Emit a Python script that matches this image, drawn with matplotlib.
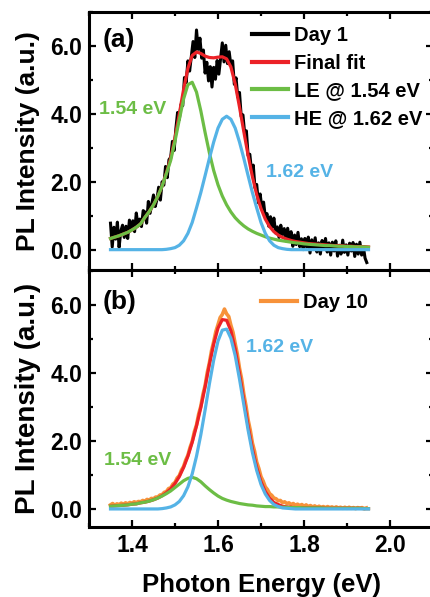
import numpy as np
import matplotlib.pyplot as plt
from matplotlib.ticker import MultipleLocator, FormatStrFormatter

plt.rcParams['font.family'] = ['Liberation Sans', 'DejaVu Sans']
plt.rcParams['font.weight'] = 'bold'

# photon energy grids (eV)
e_fit = np.linspace(1.35, 1.95, 61)
e_day1 = np.linspace(1.35, 1.946, 150)
e_day10 = np.linspace(1.35, 1.945, 120)

# (a) day 1
day1 = [0.78, 0.08, 0.66, 0.31, 0.81, 0.07, 0.55, 0.72, 0.36, 0.69,
        0.33, 0.87, 0.60, 0.85, 0.53, 1.08, 0.70, 0.90, 0.68, 1.15,
        1.11, 0.78, 1.42, 1.07, 1.35, 1.61, 1.27, 1.48, 1.84, 1.46,
        2.00, 1.90, 2.45, 2.12, 2.65, 2.72, 3.19, 2.92, 3.56, 4.04,
        3.83, 4.28, 4.24, 5.07, 4.92, 5.56, 5.26, 5.70, 6.13, 5.66,
        6.47, 5.90, 6.23, 5.64, 5.88, 5.20, 5.52, 4.97, 5.39, 4.79,
        5.37, 5.02, 5.57, 5.17, 5.63, 6.09, 5.53, 6.02, 5.48, 5.83,
        5.42, 5.56, 4.87, 5.06, 4.49, 4.63, 3.92, 3.97, 3.42, 3.50,
        2.77, 2.81, 2.31, 2.49, 1.82, 1.92, 1.38, 1.64, 1.23, 1.40,
        0.96, 1.06, 0.69, 0.97, 0.66, 0.93, 0.49, 0.67, 0.36, 0.72,
        0.45, 0.62, 0.26, 0.63, 0.28, 0.53, 0.10, 0.43, 0.15, 0.51,
        0.09, 0.32, 0.00, 0.33, 0.08, 0.37, -0.10, 0.29, 0.01, 0.35,
        -0.07, 0.20, -0.13, 0.27, 0.01, 0.33, -0.07, 0.20, -0.16, 0.22,
        -0.04, 0.26, -0.19, 0.13, -0.13, 0.28, -0.08, 0.14, -0.16, 0.19,
        -0.04, 0.21, -0.20, 0.16, -0.13, 0.22, -0.16, 0.09, -0.25, -0.38]

fit_a = [0.33, 0.37, 0.41, 0.46, 0.51, 0.58, 0.66, 0.76, 0.95, 1.12,
         1.32, 1.57, 1.87, 2.26, 2.70, 3.30, 4.00, 4.72, 5.34, 5.72,
         5.82, 5.78, 5.70, 5.66, 5.65, 5.67, 5.68, 5.62, 5.38, 4.88,
         4.20, 3.48, 2.78, 2.15, 1.62, 1.21, 0.90, 0.68, 0.53, 0.43,
         0.36, 0.31, 0.27, 0.24, 0.22, 0.20, 0.18, 0.17, 0.16, 0.15,
         0.14, 0.13, 0.12, 0.12, 0.11, 0.10, 0.10, 0.09, 0.09, 0.09, 0.08]

le_a = [0.33, 0.37, 0.41, 0.46, 0.51, 0.58, 0.66, 0.76, 0.95, 1.12,
        1.32, 1.57, 1.87, 2.24, 2.63, 3.20, 3.83, 4.44, 4.86, 4.93,
        4.64, 4.09, 3.45, 2.85, 2.33, 1.91, 1.58, 1.32, 1.11, 0.94,
        0.81, 0.70, 0.61, 0.54, 0.48, 0.43, 0.38, 0.34, 0.31, 0.28,
        0.26, 0.24, 0.22, 0.20, 0.19, 0.17, 0.16, 0.15, 0.14, 0.13,
        0.12, 0.12, 0.11, 0.10, 0.10, 0.09, 0.09, 0.08, 0.08, 0.08, 0.07]

he_a = [0, 0, 0, 0, 0, 0, 0, 0, 0, 0,
        0, 0, 0, 0.01, 0.03, 0.06, 0.13, 0.26, 0.48, 0.80,
        1.23, 1.68, 2.18, 2.69, 3.17, 3.58, 3.84, 3.93, 3.84, 3.58,
        3.17, 2.69, 2.18, 1.68, 1.23, 0.80, 0.48, 0.26, 0.13, 0.06,
        0.03, 0.01, 0, 0, 0, 0, 0, 0, 0, 0,
        0, 0, 0, 0, 0, 0, 0, 0, 0, 0, 0]

# (b) day 10
day10 = [0.12, 0.16, 0.11, 0.15, 0.13, 0.17, 0.14, 0.18, 0.15, 0.19,
         0.17, 0.21, 0.19, 0.22, 0.21, 0.25, 0.23, 0.28, 0.26, 0.31,
         0.30, 0.35, 0.35, 0.41, 0.42, 0.49, 0.51, 0.60, 0.62, 0.73,
         0.78, 0.91, 0.98, 1.14, 1.25, 1.44, 1.58, 1.81, 1.99, 2.27,
         2.47, 2.79, 3.02, 3.37, 3.63, 4.01, 4.30, 4.66, 4.92, 5.22,
         5.42, 5.63, 5.72, 5.88, 5.74, 5.66, 5.40, 5.19, 4.86, 4.55,
         4.14, 3.82, 3.38, 3.04, 2.62, 2.32, 1.94, 1.70, 1.38, 1.19,
         0.95, 0.82, 0.65, 0.57, 0.45, 0.40, 0.32, 0.30, 0.24, 0.25,
         0.19, 0.21, 0.16, 0.18, 0.13, 0.16, 0.11, 0.14, 0.10, 0.13,
         0.08, 0.12, 0.07, 0.10, 0.06, 0.09, 0.05, 0.08, 0.05, 0.07,
         0.04, 0.07, 0.04, 0.06, 0.03, 0.06, 0.03, 0.05, 0.02, 0.05,
         0.02, 0.05, 0.02, 0.04, 0.01, 0.04, 0.02, 0.04, 0.01, 0.03]

fit_b = [0.08, 0.09, 0.10, 0.11, 0.12, 0.14, 0.15, 0.18, 0.20, 0.23,
         0.27, 0.32, 0.39, 0.48, 0.59, 0.75, 0.95, 1.22, 1.55, 1.96,
         2.44, 2.98, 3.59, 4.25, 4.85, 5.32, 5.57, 5.55, 5.24, 4.70,
         3.98, 3.21, 2.44, 1.77, 1.22, 0.80, 0.51, 0.32, 0.19, 0.13,
         0.08, 0.06, 0.05, 0.04, 0.04, 0.03, 0.03, 0.03, 0.03, 0.03,
         0.02, 0.02, 0.02, 0.02, 0.02, 0.02, 0.02, 0.02, 0.02, 0.01, 0.01]

le_b = [0.08, 0.09, 0.10, 0.11, 0.12, 0.14, 0.15, 0.18, 0.20, 0.23,
        0.27, 0.32, 0.38, 0.45, 0.53, 0.63, 0.73, 0.83, 0.90, 0.93,
        0.89, 0.80, 0.68, 0.57, 0.47, 0.38, 0.31, 0.26, 0.22, 0.19,
        0.16, 0.14, 0.12, 0.11, 0.09, 0.08, 0.07, 0.07, 0.06, 0.06,
        0.05, 0.05, 0.04, 0.04, 0.04, 0.03, 0.03, 0.03, 0.03, 0.03,
        0.02, 0.02, 0.02, 0.02, 0.02, 0.02, 0.02, 0.02, 0.02, 0.01, 0.01]

he_b = [0, 0, 0, 0, 0, 0, 0, 0, 0, 0,
        0, 0, 0.01, 0.03, 0.06, 0.12, 0.22, 0.39, 0.65, 1.03,
        1.55, 2.18, 2.91, 3.68, 4.38, 4.94, 5.26, 5.29, 5.02, 4.51,
        3.82, 3.07, 2.32, 1.66, 1.13, 0.72, 0.44, 0.25, 0.13, 0.07,
        0.03, 0.02, 0.01, 0, 0, 0, 0, 0, 0, 0,
        0, 0, 0, 0, 0, 0, 0, 0, 0, 0, 0]

c_red = '#ec2227'
c_green = '#6cbd45'
c_blue = '#55b3e6'
c_orange = '#f7923a'


def style_axis(ax, ylim):
    ax.set_xlim(1.3, 2.1)
    ax.set_ylim(*ylim)
    ax.xaxis.set_major_locator(MultipleLocator(0.2))
    ax.xaxis.set_minor_locator(MultipleLocator(0.1))
    ax.yaxis.set_major_locator(MultipleLocator(2))
    ax.yaxis.set_minor_locator(MultipleLocator(1))
    ax.yaxis.set_major_formatter(FormatStrFormatter('%.1f'))
    ax.xaxis.set_major_formatter(FormatStrFormatter('%.1f'))
    ax.tick_params(which='both', direction='in', top=True, right=True,
                   width=1.6, labelsize=16.5, pad=5)
    ax.tick_params(which='major', length=5)
    ax.tick_params(which='minor', length=3)
    for s in ax.spines.values():
        s.set_linewidth(2.2)


fig = plt.figure(figsize=(4.3, 5.97), dpi=100)
ax_a = fig.add_axes([89 / 430, 0.5477, 344 / 430, 0.4322])
ax_b = fig.add_axes([89 / 430, 0.1173, 344 / 430, 0.4305])

# panel (a)
ax_a.plot(e_day1, day1, color='black', lw=2.2, label='Day 1')
ax_a.plot(e_fit, fit_a, color=c_red, lw=2.3, label='Final fit')
ax_a.plot(e_fit, le_a, color=c_green, lw=2.3, label='LE @ 1.54 eV')
ax_a.plot(e_fit, he_a, color=c_blue, lw=2.3, label='HE @ 1.62 eV')
style_axis(ax_a, (-0.6, 7.0))
ax_a.tick_params(labelbottom=False)
leg = ax_a.legend(loc='center left', bbox_to_anchor=(0.474, 0.748), frameon=False,
                  handlelength=1.8, handletextpad=0.3, borderpad=0, borderaxespad=0,
                  labelspacing=0.42, prop={'size': 14.5, 'weight': 'bold'})
for h in leg.get_lines():
    h.set_linewidth(3)
ax_a.text(0.04, 0.89, '(a)', transform=ax_a.transAxes, fontsize=19,
          fontweight='bold', ha='left', va='center')
ax_a.text(1.323, 4.13, '1.54 eV', color=c_green, fontsize=14,
          fontweight='bold', ha='left', va='center')
ax_a.text(1.711, 2.27, '1.62 eV', color=c_blue, fontsize=14,
          fontweight='bold', ha='left', va='center')
ax_a.set_ylabel('PL Intensity (a.u.)', fontsize=19, fontweight='bold',
                ha='center', va='center')
ax_a.yaxis.set_label_coords(-0.178, 0.5)

# panel (b)
ax_b.plot(e_day10, day10, color=c_orange, lw=2.6, label='Day 10')
ax_b.plot(e_fit, fit_b, color=c_red, lw=2.3)
ax_b.plot(e_fit, le_b, color=c_green, lw=2.3)
ax_b.plot(e_fit, he_b, color=c_blue, lw=2.3)
style_axis(ax_b, (-0.53, 7.03))
leg_b = ax_b.legend(loc='center left', bbox_to_anchor=(0.50, 0.875), frameon=False,
                    handlelength=1.8, handletextpad=0.3, borderpad=0, borderaxespad=0,
                    prop={'size': 14.5, 'weight': 'bold'})
for h in leg_b.get_lines():
    h.set_linewidth(3)
ax_b.text(0.04, 0.875, '(b)', transform=ax_b.transAxes, fontsize=19,
          fontweight='bold', ha='left', va='center')
ax_b.text(1.664, 4.76, '1.62 eV', color=c_blue, fontsize=14,
          fontweight='bold', ha='left', va='center')
ax_b.text(1.334, 1.44, '1.54 eV', color=c_green, fontsize=14,
          fontweight='bold', ha='left', va='center')
ax_b.set_ylabel('PL Intensity (a.u.)', fontsize=20, fontweight='bold',
                ha='center', va='center')
ax_b.yaxis.set_label_coords(-0.178, 0.5)
ax_b.set_xlabel('Photon Energy (eV)', fontsize=18.5, fontweight='bold',
                va='center')
ax_b.xaxis.set_label_coords(0.5, -0.226)

fig.savefig('out.png', dpi=100)
